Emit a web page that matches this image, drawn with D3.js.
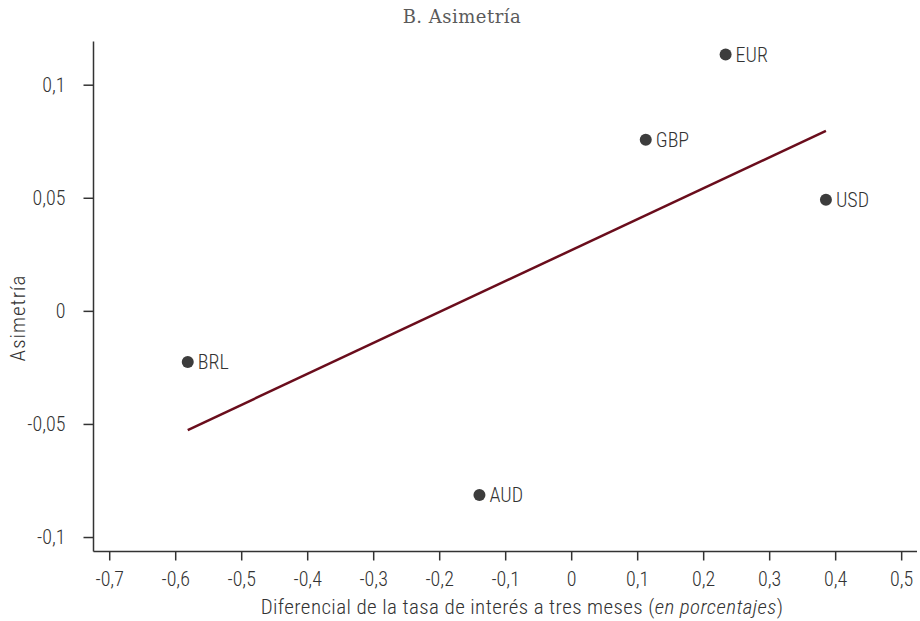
<!DOCTYPE html>
<html>
<head>
<meta charset="utf-8">
<script src="https://cdn.jsdelivr.net/npm/d3@7"></script>
<style>
  body { margin: 0; background: #fff; }
  svg { display: block; }
  .lbl { font-family: "Liberation Sans Narrow", "Roboto Condensed", "Roboto", sans-serif; fill: #333; font-weight: 300; }
</style>
</head>
<body>
<svg></svg>
<script>
// Scatter: asymmetry vs 3-month interest rate differential

const currencies = ["EUR", "GBP", "USD", "BRL", "AUD"];
const rateDiff = [0.234, 0.113, 0.386, -0.581, -0.139];
const skew = [0.1133, 0.0757, 0.0491, -0.0226, -0.0814];

// fitted line endpoints (x, y)
const fitX = [-0.581, 0.386];
const fitY = [-0.0527, 0.0796];

const xTicks = [-0.7, -0.6, -0.5, -0.4, -0.3, -0.2, -0.1, 0, 0.1, 0.2, 0.3, 0.4, 0.5];
const yTicks = [-0.1, -0.05, 0, 0.05, 0.1];

const width = 920, height = 621;
const margin = {left: 93.5, right: 3, top: 41.5, bottom: 69.5};

const svg = d3.select("svg")
    .attr("width", width)
    .attr("height", height);

const x = d3.scaleLinear()
    .domain([-0.7238, 0.524])
    .range([margin.left, width - margin.right]);

const y = d3.scaleLinear()
    .domain([-0.1064, 0.1191])
    .range([height - margin.bottom, margin.top]);

const fmt = d => d3.format("")(d).replace(".", ",").replace("−", "-");

// x axis
const xAxis = svg.append("g")
    .attr("transform", `translate(0,${height - margin.bottom})`)
    .call(d3.axisBottom(x).tickValues(xTicks).tickSize(9).tickPadding(11).tickFormat(fmt));

// y axis
const yAxis = svg.append("g")
    .attr("transform", `translate(${margin.left},0)`)
    .call(d3.axisLeft(y).tickValues(yTicks).tickSize(10).tickPadding(18).tickFormat(fmt));

[xAxis, yAxis].forEach(g => {
  g.select(".domain").attr("stroke", "#333").attr("stroke-width", 1.5);
  g.selectAll(".tick line").attr("stroke", "#333").attr("stroke-width", 1.5);
  g.selectAll(".tick text")
    .attr("class", "lbl")
    .attr("fill", "#333")
    .style("font-size", "20px");
});
yAxis.select(".domain").attr("d", `M0,${y.range()[1]}V${y.range()[0]}`);
xAxis.select(".domain").attr("d", `M${x.range()[0]},0H${x.range()[1]}`);

// fitted line
svg.append("line")
    .attr("x1", x(fitX[0])).attr("y1", y(fitY[0]))
    .attr("x2", x(fitX[1])).attr("y2", y(fitY[1]))
    .attr("stroke", "#6a0d1c")
    .attr("stroke-width", 2.5);

// points
const pts = svg.append("g");
pts.selectAll("circle")
  .data(currencies)
  .join("circle")
    .attr("cx", (d, i) => x(rateDiff[i]))
    .attr("cy", (d, i) => y(skew[i]))
    .attr("r", 6)
    .attr("fill", "#3c3c3c");

pts.selectAll("text")
  .data(currencies)
  .join("text")
    .attr("class", "lbl")
    .attr("x", (d, i) => x(rateDiff[i]) + 10)
    .attr("y", (d, i) => y(skew[i]))
    .attr("dy", "0.36em")
    .style("font-size", "20px")
    .text(d => d);

// titles
svg.append("text")
    .attr("x", 462).attr("y", 23)
    .attr("text-anchor", "middle")
    .style("font-family", "'DejaVu Serif', 'Liberation Serif', serif")
    .style("font-size", "18px")
    .style("letter-spacing", "0.5px")
    .attr("fill", "#5a5a5a")
    .text("B. Asimetría");

const xt = svg.append("text")
    .attr("class", "lbl")
    .attr("x", 522)
    .attr("y", 614)
    .attr("text-anchor", "middle")
    .style("font-size", "21px")
    .style("letter-spacing", "0.4px");
xt.append("tspan").text("Diferencial de la tasa de interés a tres meses (");
xt.append("tspan").style("font-style", "italic").text("en porcentajes");
xt.append("tspan").text(")");

svg.append("text")
    .attr("class", "lbl")
    .attr("transform", "translate(25,318) rotate(-90)")
    .attr("text-anchor", "middle")
    .style("font-size", "21px")
    .style("letter-spacing", "1px")
    .text("Asimetría");
</script>
</body>
</html>
